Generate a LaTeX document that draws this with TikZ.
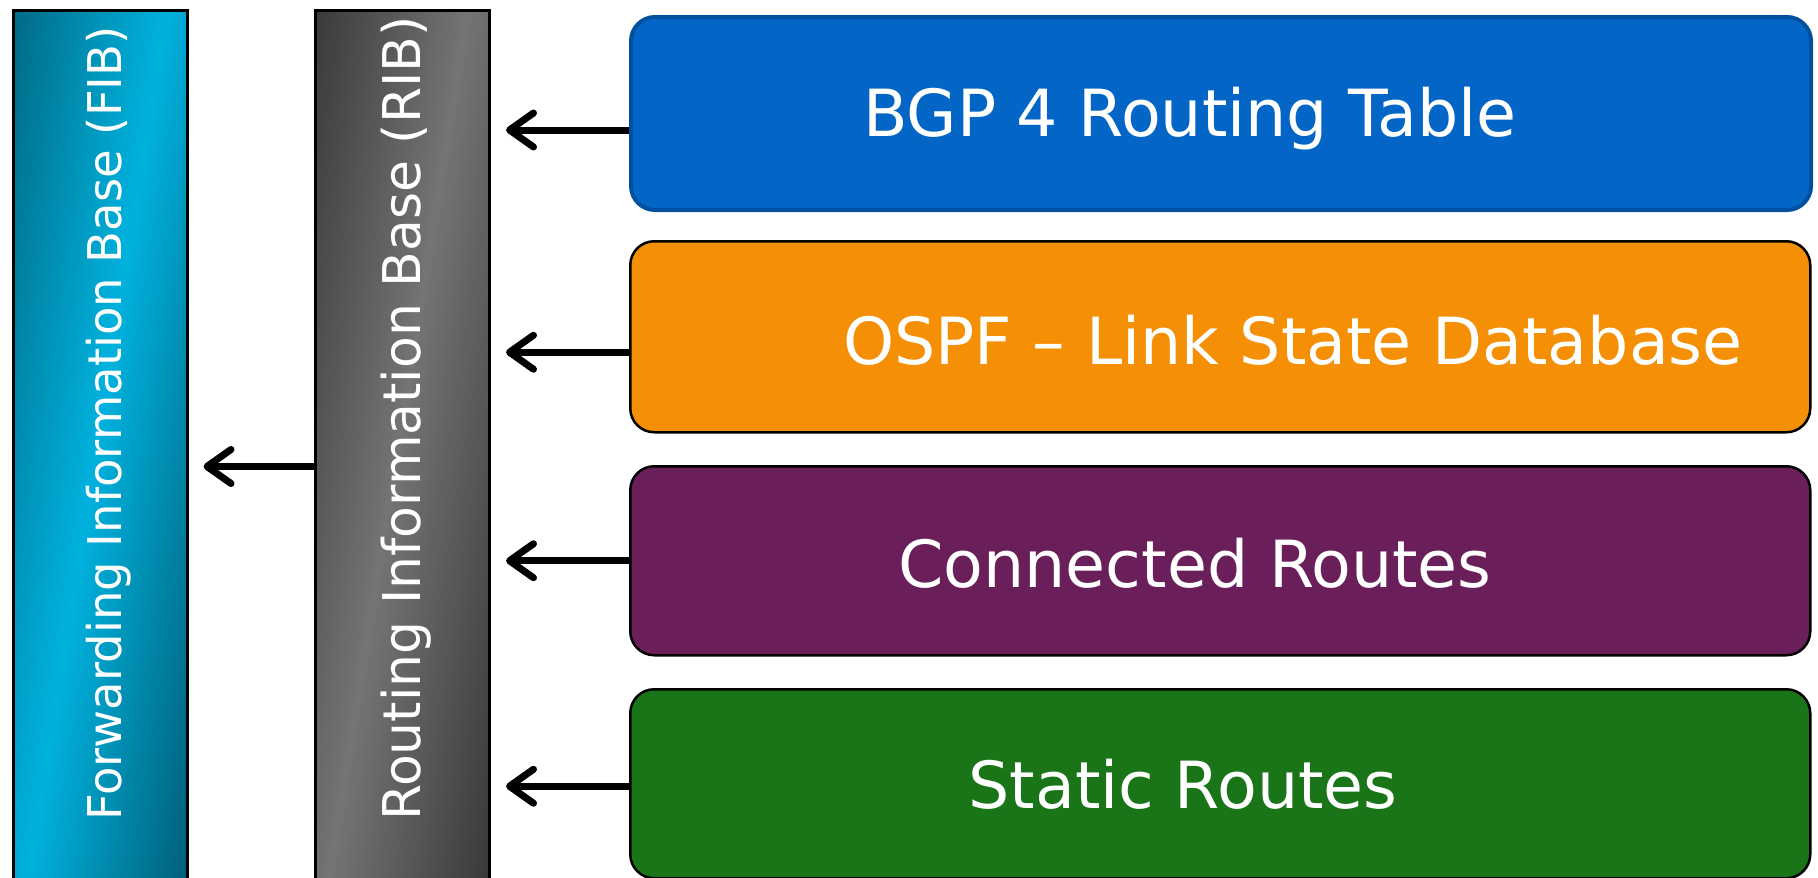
\documentclass[tikz,border=0pt]{standalone}
\usepackage{fontspec}
\setmainfont{DejaVu Sans}
\usetikzlibrary{arrows.meta}
\definecolor{bgpblue}{HTML}{0366C6}
\definecolor{bgpedge}{HTML}{0050A0}
\definecolor{ospforange}{HTML}{F59006}
\definecolor{connpurple}{HTML}{6B1F5A}
\definecolor{staticgreen}{HTML}{1A7519}
\definecolor{fibdark}{HTML}{006A86}
\definecolor{fibbright}{HTML}{00B2DE}
\definecolor{fibend}{HTML}{005E78}
\definecolor{ribdark}{HTML}{3A3A3A}
\definecolor{ribbright}{HTML}{747474}
\definecolor{ribend}{HTML}{383838}
% #1 left #2 top #3 right #4 bottom #5 dark #6 bright #7 end
\newcommand\drawgradbar[7]{%
  \begin{scope}
    \clip (#1,#2) rectangle (#3,#4);
    \foreach \gradu in {0,2,...,330}{
      \ifnum\gradu<153
        \pgfmathtruncatemacro\gradpct{\gradu/153*100}
        \colorlet{stripc}{#6!\gradpct!#5}
      \else
        \pgfmathtruncatemacro\gradpct{min(100,(\gradu-153)/163*100)}
        \colorlet{stripc}{#7!\gradpct!#6}
      \fi
      \pgfmathsetmacro\gradxa{#1+\gradu}
      \pgfmathsetmacro\gradxb{#1+\gradu+2.8}
      \pgfmathsetmacro\gradxc{#1+\gradu+2.8-141}
      \pgfmathsetmacro\gradxd{#1+\gradu-141}
      \fill[stripc] (\gradxa,#2) -- (\gradxb,#2) -- (\gradxc,#4) -- (\gradxd,#4) -- cycle;
    }
  \end{scope}}
\begin{document}
\begin{tikzpicture}[x=1pt,y=-1pt,
  bar/.style={draw=black, line width=3pt, minimum width=174pt, minimum height=881pt, anchor=north west, inner sep=0pt},
  srcbox/.style={draw=black, line width=2.5pt, rounded corners=24pt, minimum width=1180pt, anchor=north west, inner sep=0pt},
  boxlabel/.style={text=white, font=\fontsize{65}{72}\selectfont, anchor=base, inner sep=0pt},
  barlabel/.style={text=white, rotate=90, anchor=base west, inner sep=0pt},
  feed/.style={line width=7pt, -{Straight Barb[length=24pt,width=34pt,line cap=round,line join=round]}},
]
\useasboundingbox (0,0) rectangle (1818,878);

% bars
\drawgradbar{12}{9}{186}{890}{fibdark}{fibbright}{fibend}
\drawgradbar{314}{9}{488}{890}{ribdark}{ribbright}{ribend}
\node[bar] (fib) at (12,9) {};
\node[bar] (rib) at (314,9) {};
\node[barlabel, font=\fontsize{46.5}{50}\selectfont] (fibtext) at (121,821) {Forwarding Information Base (FIB)};
\node[barlabel, font=\fontsize{52}{56}\selectfont] (ribtext) at (420,821) {Routing Information Base (RIB)};

% source boxes
\node[srcbox, fill=bgpblue, draw=bgpedge, line width=4pt, minimum height=193pt] (bgp) at (629,15) {};
\node[srcbox, fill=ospforange, minimum height=191pt] (ospf) at (629,240) {};
\node[srcbox, fill=connpurple, minimum height=189pt] (conn) at (629,465) {};
\node[srcbox, fill=staticgreen, minimum height=189pt] (static) at (629,688) {};

\node[boxlabel] (bgptext) at (1190,136) {BGP 4 Routing Table};
\node[boxlabel] (ospftext) at (1293,364) {OSPF – Link State Database};
\node[boxlabel] (conntext) at (1195,587) {Connected Routes};
\node[boxlabel] (statictext) at (1183,808) {Static Routes};

% connectors
\draw[feed, shorten >=15pt] ([yshift=-16.5pt]bgp.west) -- ([yshift=-16.5pt]bgp.west -| rib.east);
\draw[feed, shorten >=15pt] ([yshift=-15.5pt]ospf.west) -- ([yshift=-15.5pt]ospf.west -| rib.east);
\draw[feed, shorten >=15pt] (conn.west) -- (conn.west -| rib.east);
\draw[feed, shorten >=15pt] ([yshift=-2.5pt]static.west) -- ([yshift=-2.5pt]static.west -| rib.east);
\draw[feed, shorten >=14.5pt] ([yshift=-15.5pt]rib.west) -- ([yshift=-15.5pt]rib.west -| fib.east);
\end{tikzpicture}
\end{document}
